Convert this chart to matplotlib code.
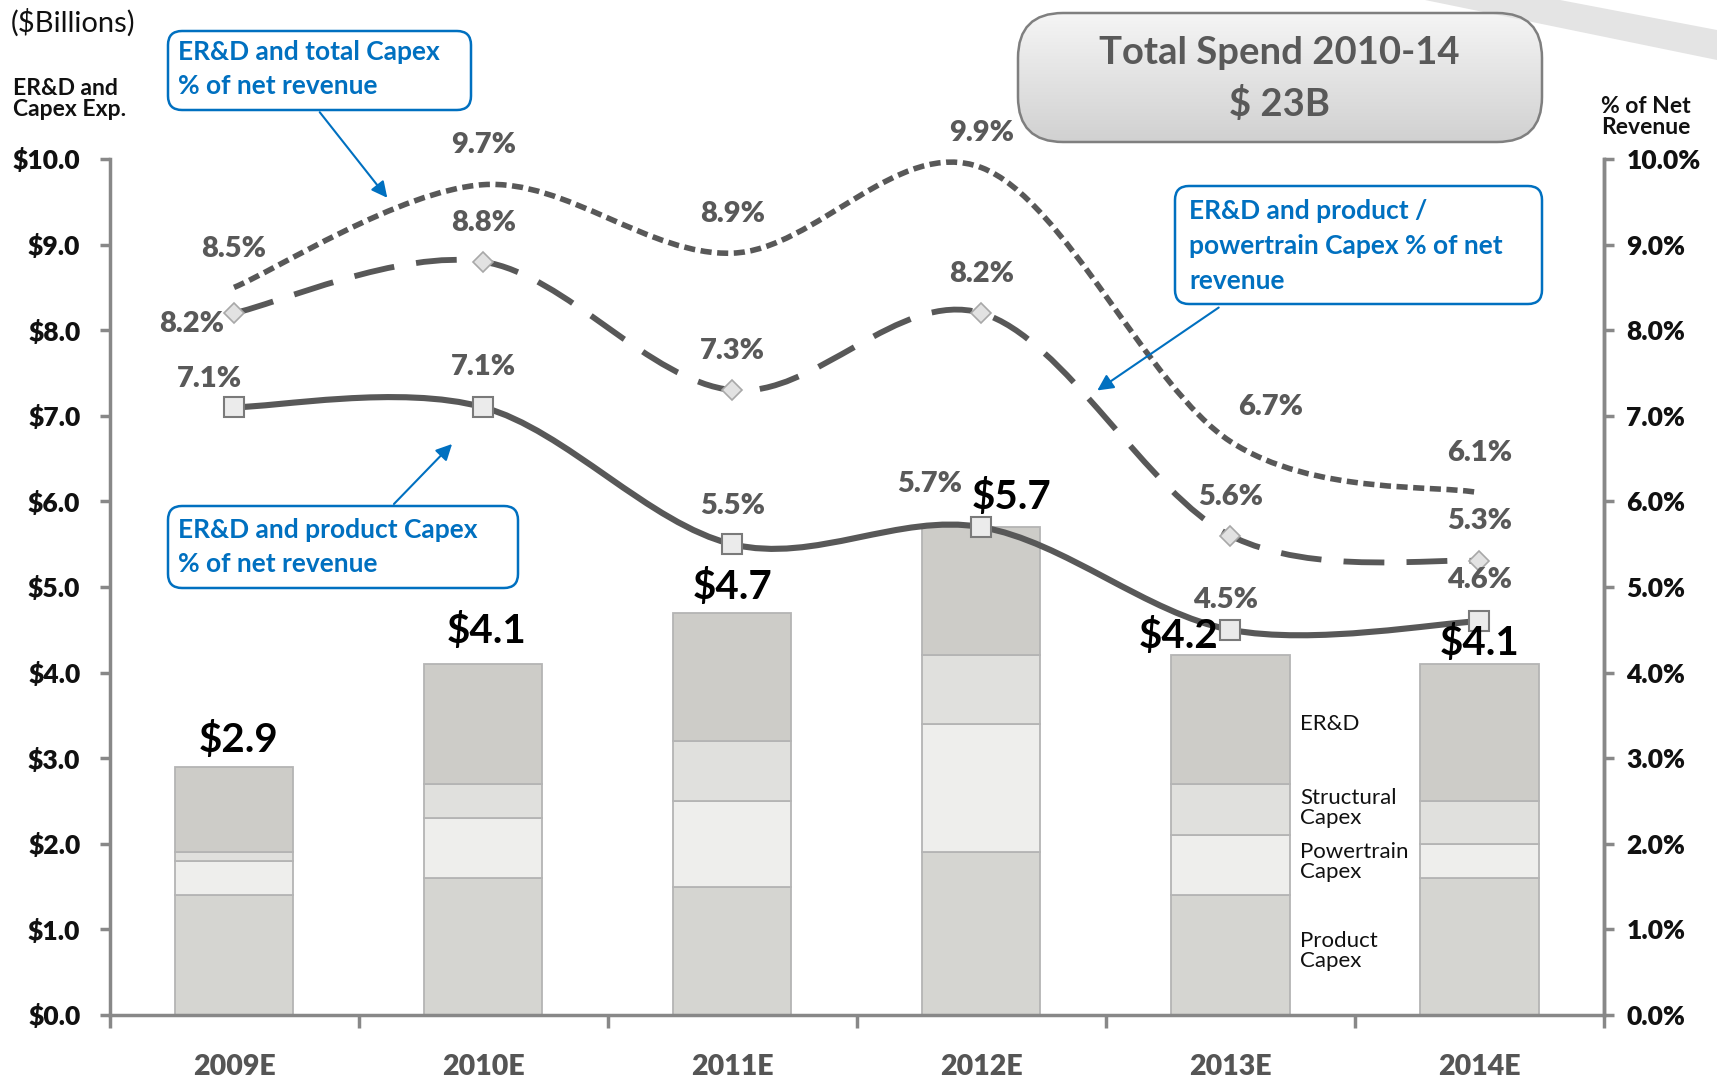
import numpy as np
import matplotlib
matplotlib.use("Agg")
import matplotlib.pyplot as plt
from matplotlib.path import Path
from matplotlib.patches import PathPatch, FancyBboxPatch, Polygon

matplotlib.rcParams['font.family'] = ['Lato', 'DejaVu Sans']

# ---- data ----
years = ["2009E", "2010E", "2011E", "2012E", "2013E", "2014E"]
product_capex = [1.4, 1.6, 1.5, 1.9, 1.4, 1.6]
powertrain_capex = [0.4, 0.7, 1.0, 1.5, 0.7, 0.4]
structural_capex = [0.1, 0.4, 0.7, 0.8, 0.6, 0.5]
erd = [1.0, 1.4, 1.5, 1.5, 1.5, 1.6]
bar_totals = [2.9, 4.1, 4.7, 5.7, 4.2, 4.1]

pct_total_capex = [8.5, 9.7, 8.9, 9.9, 6.7, 6.1]
pct_prod_powertrain = [8.2, 8.8, 7.3, 8.2, 5.6, 5.3]
pct_product = [7.1, 7.1, 5.5, 5.7, 4.5, 4.6]

left_ticks = np.arange(0, 11, 1)

LINE_C = '#585858'
BLUE = '#0070c0'
HEAVY = 'heavy'


def smooth_path(xs, ys):
    """excel-like smoothed line as cubic bezier path"""
    pts = list(zip(xs, ys))
    n = len(pts)
    verts = [pts[0]]
    codes = [Path.MOVETO]
    for i in range(n - 1):
        p0 = pts[i - 1] if i > 0 else pts[i]
        p1 = pts[i]
        p2 = pts[i + 1]
        p3 = pts[i + 2] if i + 2 < n else pts[i + 1]
        c1 = (p1[0] + (p2[0] - p0[0]) / 6, p1[1] + (p2[1] - p0[1]) / 6)
        c2 = (p2[0] - (p3[0] - p1[0]) / 6, p2[1] - (p3[1] - p1[1]) / 6)
        verts += [c1, c2, p2]
        codes += [Path.CURVE4] * 3
    return Path(verts, codes)


W, H = 1717, 1081
fig = plt.figure(figsize=(W / 100, H / 100), dpi=100)
ax_l, ax_r, ax_t, ax_b = 109.5, 1604, 159, 1015
ax = fig.add_axes([ax_l / W, 1 - ax_b / H, (ax_r - ax_l) / W, (ax_b - ax_t) / H])

x = np.arange(len(years))
bw = 0.475
bottom = np.zeros(len(years))
for vals, col in [(product_capex, '#d5d5d1'), (powertrain_capex, '#eeeeec'),
                  (structural_capex, '#e0e0dd'), (erd, '#cdccc8')]:
    ax.bar(x, vals, bw, bottom=bottom, color=col, edgecolor='#b4b4b4', linewidth=1.3, zorder=2)
    bottom += np.array(vals)

ax.set_xlim(-0.5, 5.5)
ax.set_ylim(0, 10)

# smoothed lines
ax.add_patch(PathPatch(smooth_path(x, pct_total_capex), fill=False, edgecolor=LINE_C,
                       lw=4.0, linestyle=(0, (2.0, 1.0)), zorder=4))
ax.add_patch(PathPatch(smooth_path(x, pct_prod_powertrain), fill=False, edgecolor=LINE_C,
                       lw=4.2, linestyle=(0, (7, 3.8)), zorder=4))
ax.add_patch(PathPatch(smooth_path(x, pct_product), fill=False, edgecolor=LINE_C,
                       lw=4.4, zorder=4))
ax.plot(x, pct_prod_powertrain, ls='none', marker='D', ms=10, mfc='#e2e2e2', mec='#a8a8a8', mew=1.2, zorder=5)
ax.plot(x, pct_product, ls='none', marker='s', ms=15, mfc='#ebebeb', mec='#7a7a7a', mew=1.5, zorder=5)

# data labels (pixel offsets)
pct_style = dict(ha='center', va='center', fontsize=21, fontweight=HEAVY, color='#595959',
                 textcoords='offset pixels', zorder=6)
off_total = [(0, 38), (0, 40), (0, 39), (0, 35), (40, 34), (0, 40)]
off_pp = [(-42, -11), (0, 39), (0, 39), (0, 39), (0, 39), (0, 40)]
off_prod = [(-25, 28), (0, 40), (0, 38), (-52, 43), (-5, 30), (0, 41)]
off_bar = [(5, 27), (3, 33), (0, 26), (30, 30), (-52, 19), (0, 21)]
for i in range(len(years)):
    ax.annotate(f"{pct_total_capex[i]:.1f}%", (x[i], pct_total_capex[i]), xytext=off_total[i], **pct_style)
    ax.annotate(f"{pct_prod_powertrain[i]:.1f}%", (x[i], pct_prod_powertrain[i]), xytext=off_pp[i], **pct_style)
    ax.annotate(f"{pct_product[i]:.1f}%", (x[i], pct_product[i]), xytext=off_prod[i], **pct_style)
    ax.annotate(f"${bar_totals[i]:.1f}", (x[i], bar_totals[i]), xytext=off_bar[i], ha='center', va='center',
                fontsize=29, fontweight='bold', color='black', textcoords='offset pixels', zorder=6)

# segment names beside 2013 bar
seg_style = dict(fontsize=16, color='#111111', ha='left', va='center', linespacing=1.0, zorder=6)
ax.text(4.28, 3.40, "ER&D", **seg_style)
ax.text(4.28, 2.42, "Structural\nCapex", **seg_style)
ax.text(4.28, 1.79, "Powertrain\nCapex", **seg_style)
ax.text(4.28, 0.75, "Product\nCapex", **seg_style)

# axes styling
ax.spines['top'].set_visible(False)
for s in ['left', 'right', 'bottom']:
    ax.spines[s].set_color('#888888')
    ax.spines[s].set_linewidth(2.5)
ax.set_yticks(left_ticks)
ax.set_yticklabels([f"${v:.1f}" for v in left_ticks])
ax.tick_params(axis='y', direction='out', length=7, width=2.5, color='#888888', pad=14,
               labelsize=19, labelcolor='#111111')
for t in ax.get_yticklabels():
    t.set_fontweight(HEAVY)
ax.set_xticks(np.arange(-0.5, 6, 1))
ax.set_xticklabels([])
ax.tick_params(axis='x', which='major', direction='out', length=9, width=2.5, color='#888888')
ax.set_xticks(x, minor=True)
ax.set_xticklabels(years, minor=True)
ax.tick_params(axis='x', which='minor', length=0, pad=28, labelsize=20.5, labelcolor='#555555')
for t in ax.get_xticklabels(minor=True):
    t.set_fontweight(HEAVY)

ax2 = ax.twinx()
ax2.set_ylim(0, 10)
ax2.set_yticks(left_ticks)
ax2.set_yticklabels([f"{v:.1f}%" for v in left_ticks])
ax2.tick_params(axis='y', direction='out', length=7, width=2.5, color='#888888', pad=9,
                labelsize=19, labelcolor='#111111')
for t in ax2.get_yticklabels():
    t.set_fontweight(HEAVY)
for s in ['top', 'left', 'bottom']:
    ax2.spines[s].set_visible(False)
ax2.spines['right'].set_color('#888888')
ax2.spines['right'].set_linewidth(2.5)

# ---- overlay in pixel coords (y down) ----
ov = fig.add_axes([0, 0, 1, 1], zorder=10)
ov.patch.set_alpha(0)
ov.axis('off')

# swoosh top right
ov.add_patch(Polygon([(1425, 0), (1560, 0), (1717, 30), (1717, 60)], closed=True,
                     facecolor='#e4e4e4', edgecolor='none'))

# total spend box with gradient
grad = np.linspace(0.96, 0.82, 64)[:, None, None] * np.ones((64, 1, 3))
img = ov.imshow(grad, extent=(1018, 1542, 142, 13), aspect='auto')
box = FancyBboxPatch((1018, 13), 524, 129, boxstyle="round,pad=0,rounding_size=45",
                     facecolor='none', edgecolor='#7f7f7f', lw=1.8)
ov.add_patch(box)
img.set_clip_path(box)
ov.text(1279, 53, "Total Spend 2010-14", ha='center', va='center', fontsize=27.5,
        fontweight='bold', color='#595959')
ov.text(1279, 104, "$ 23B", ha='center', va='center', fontsize=27.5,
        fontweight='bold', color='#595959')

# header labels
ov.text(11, 23, "($Billions)", ha='left', va='center', fontsize=21, color='#111111')
ov.text(13, 99, "ER&D and\nCapex Exp.", ha='left', va='center', fontsize=16.5,
        fontweight='bold', color='#111111', linespacing=0.95)
ov.text(1601, 117, "% of Net\nRevenue", ha='left', va='center', fontsize=16.5,
        fontweight='bold', color='#111111', linespacing=0.95)

# callouts
callouts = [
    ((168, 31, 303, 79), (178, [52, 86]), ["ER&D and total Capex", "% of net revenue"],
     (318, 110), (389, 200)),
    ((1175, 186, 367, 118), (1189, [211, 246, 281]),
     ["ER&D and product /", "powertrain Capex % of net", "revenue"], (1221, 306), (1095, 392)),
    ((168, 506, 350, 82), (178, [530, 564]), ["ER&D and product Capex", "% of net revenue"],
     (392, 506), (454, 442)),
]
for (bx, by, bwid, bht), (tx, tys), lines, a0, a1 in callouts:
    ov.add_patch(FancyBboxPatch((bx, by), bwid, bht, boxstyle="round,pad=0,rounding_size=14",
                                facecolor='white', edgecolor=BLUE, lw=1.8))
    for ty, ln in zip(tys, lines):
        ov.text(tx, ty, ln, ha='left', va='center', fontsize=19, fontweight='bold', color=BLUE)
    ov.annotate('', xy=a1, xytext=a0,
                arrowprops=dict(arrowstyle='-|>', color=BLUE, lw=1.5, mutation_scale=24))

ov.set_xlim(0, W)
ov.set_ylim(H, 0)

fig.savefig("out.png", dpi=100)
